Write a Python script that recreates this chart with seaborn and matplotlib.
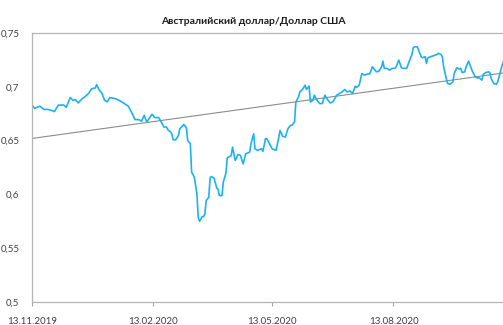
import numpy as np
import pandas as pd
import matplotlib
matplotlib.use("Agg")
import matplotlib.pyplot as plt
import matplotlib.dates as mdates
from matplotlib.ticker import FuncFormatter, MultipleLocator
import seaborn as sns

# AUD/USD exchange rate, observations counted in days from the start date
START = "2019-11-13"
day_offsets = [
    0, 2, 4, 6, 9, 12, 15, 17, 20, 24, 26, 29, 31, 33, 35, 38, 40, 43, 45, 48,
    49, 51, 53, 55, 57, 59, 63, 65, 68, 70, 73, 76, 78, 81, 83, 85, 87, 89, 91, 93,
    96, 98, 100, 102, 103, 105, 106, 107, 109, 111, 112, 114, 115, 117, 118, 120, 121, 122, 123, 125,
    126, 127, 129, 130, 131, 132, 134, 135, 136, 138, 140, 141, 142, 144, 145, 147, 148, 150, 151, 152,
    154, 155, 156, 158, 160, 162, 165, 166, 168, 169, 171, 174, 175, 177, 178, 180, 182, 185, 187, 188,
    190, 192, 194, 196, 197, 199, 200, 202, 203, 205, 207, 208, 210, 211, 213, 214, 216, 218, 220, 222,
    224, 226, 228, 230, 231, 233, 235, 237, 239, 241, 243, 245, 246, 248, 250, 252, 254, 256, 258, 260,
    261, 263, 265, 266, 267, 269, 271, 273, 275, 276, 278, 280, 281, 284, 286, 288, 289, 290, 292, 293,
    295, 296, 298, 299, 300, 302, 304, 307, 308, 310, 311, 312, 314, 315, 317, 319, 320, 322, 324, 325,
    326, 328, 329, 331, 332, 334, 336, 337, 339, 341, 342, 344, 346, 347, 348, 350, 352, 353, 355, 356,
    358,
]
aud_usd = [
    0.683, 0.680, 0.681, 0.682, 0.679, 0.679, 0.678, 0.677, 0.683, 0.683,
    0.681, 0.690, 0.6875, 0.688, 0.685, 0.689, 0.6906, 0.694, 0.698, 0.699,
    0.702, 0.697, 0.694, 0.6875, 0.686, 0.690, 0.689, 0.688, 0.686, 0.6844,
    0.682, 0.675, 0.6695, 0.6695, 0.668, 0.6735, 0.6673, 0.671, 0.6745, 0.6714,
    0.6714, 0.6673, 0.6626, 0.6626, 0.660, 0.658, 0.6564, 0.6508, 0.6508, 0.6549,
    0.6611, 0.6632, 0.665, 0.662, 0.650, 0.6471, 0.6206, 0.6185, 0.616, 0.6005,
    0.5787, 0.575, 0.5793, 0.5793, 0.5818, 0.5942, 0.5973, 0.6154, 0.6166, 0.615,
    0.606, 0.605, 0.5989, 0.5989, 0.6113, 0.6197, 0.634, 0.6353, 0.6362, 0.6439,
    0.6315, 0.634, 0.6371, 0.6362, 0.6284, 0.6378, 0.6393, 0.6471, 0.6564, 0.6424,
    0.6409, 0.6424, 0.640, 0.6518, 0.6518, 0.6471, 0.6424, 0.6409, 0.6527, 0.6595,
    0.6539, 0.6533, 0.6611, 0.6642, 0.6642, 0.6673, 0.6859, 0.6906, 0.6952, 0.6975,
    0.7015, 0.6975, 0.7006, 0.6859, 0.6875, 0.6922, 0.6875, 0.6844, 0.6844, 0.6922,
    0.6881, 0.685, 0.6859, 0.690, 0.6922, 0.6937, 0.6952, 0.6975, 0.6952, 0.6962,
    0.6937, 0.7006, 0.6994, 0.7015, 0.7124, 0.7108, 0.7118, 0.7120, 0.7186, 0.7155,
    0.7139, 0.7146, 0.7186, 0.7239, 0.7171, 0.7171, 0.7155, 0.7171, 0.7171, 0.7186,
    0.7248, 0.7177, 0.7171, 0.7171, 0.7239, 0.7301, 0.7363, 0.7372, 0.7372, 0.7341,
    0.7279, 0.727, 0.7279, 0.7217, 0.727, 0.7279, 0.7288, 0.7301, 0.7311, 0.7301,
    0.7279, 0.7186, 0.7077, 0.7031, 0.7024, 0.7046, 0.7124, 0.7177, 0.7164, 0.7171,
    0.7133, 0.7139, 0.7186, 0.7239, 0.7201, 0.7139, 0.7093, 0.7083, 0.7083, 0.7062,
    0.7115, 0.7133, 0.7139, 0.7133, 0.7077, 0.7031, 0.7024, 0.7046, 0.7139, 0.7186,
    0.7260,
]
# Linear trend of the rate over the shown period
trend_dates = ["2019-11-13", "2020-11-04"]
trend_values = [0.652, 0.7128]

tick_dates = ["2019-11-13", "2020-02-13", "2020-05-13", "2020-08-13"]
x_end = "2020-11-04"
title = "Австралийский доллар/Доллар США"

dates = pd.Timestamp(START) + pd.to_timedelta(day_offsets, unit="D")
df = pd.DataFrame({"date": mdates.date2num(dates), "rate": aud_usd})
trend = pd.DataFrame({"date": mdates.date2num(pd.to_datetime(trend_dates)),
                      "rate": trend_values})

sns.set_theme(style="white")
plt.rcParams["font.family"] = ["Lato", "DejaVu Sans"]

fig = plt.figure(figsize=(5.03, 3.25), dpi=100)
ax = fig.add_axes([32 / 503, 23 / 325, 471 / 503, 269 / 325])

sns.lineplot(data=trend, x="date", y="rate", ax=ax, color="#8C8C8C", linewidth=0.8)
sns.lineplot(data=df, x="date", y="rate", ax=ax, color="#1CB2F0", linewidth=1.2)

ax.set_xlim(mdates.date2num(pd.Timestamp(START)), mdates.date2num(pd.Timestamp(x_end)))
ax.set_ylim(0.5, 0.75)

ax.set_xticks(mdates.date2num(pd.to_datetime(tick_dates)))
ax.xaxis.set_major_formatter(mdates.DateFormatter("%d.%m.%Y"))
ax.yaxis.set_major_locator(MultipleLocator(0.05))
ax.yaxis.set_major_formatter(FuncFormatter(lambda v, _: f"{v:g}".replace(".", ",")))

ax.set_xlabel("")
ax.set_ylabel("")
ax.tick_params(axis="x", which="major", bottom=True, length=3, width=0.8,
               color="#A6A6A6", pad=8, labelsize=7, labelcolor="#404040")
ax.tick_params(axis="y", which="major", left=False, length=0, pad=9,
               labelsize=7, labelcolor="#404040")

for side in ("left", "bottom", "top"):
    ax.spines[side].set_visible(True)
    ax.spines[side].set_color("#B4B4B4")
    ax.spines[side].set_linewidth(0.9)
ax.spines["right"].set_visible(False)

fig.text(253 / 503, 1 - 21 / 325, title, ha="center", va="center",
         fontsize=7.5, fontweight="bold", color="#1A1A1A")

fig.savefig("out.png", dpi=100, facecolor="white")
